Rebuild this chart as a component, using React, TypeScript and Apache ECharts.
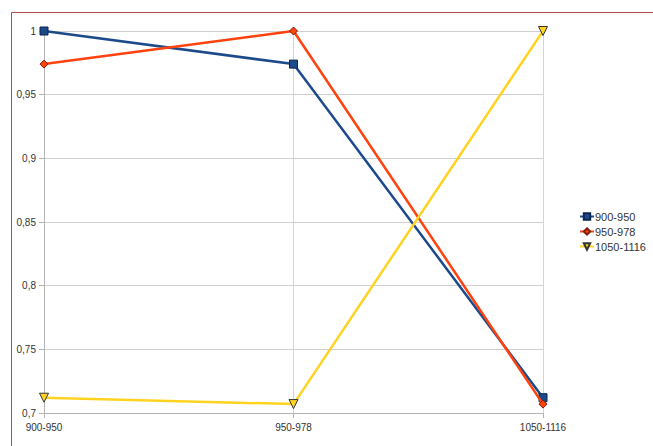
import React, { useEffect, useRef } from "react";
import * as echarts from "echarts";

const categories = ["900-950", "950-978", "1050-1116"];
const seriesNames = ["900-950", "950-978", "1050-1116"];
const s1 = [1, 0.974, 0.712];
const s2 = [0.974, 1, 0.707];
const s3 = [0.712, 0.707, 1];
const yTicks = { min: 0.7, max: 1, interval: 0.05 };

export default function App() {
  const ref = useRef<HTMLDivElement>(null);
  useEffect(() => {
    const chart = echarts.init(ref.current!, null, { renderer: "svg" });
    const gridColor = "#b3b3b3";
    const font = "'Liberation Sans', Arial, sans-serif";
    chart.setOption({
      animation: false,
      backgroundColor: "#ffffff",
      textStyle: { fontFamily: font },
      graphic: [
        {
          type: "rect",
          shape: { x: 11.5, y: 12.5, width: 800, height: 600 },
          style: { fill: "none", stroke: "#b5474f", lineWidth: 1 },
          silent: true,
        },
      ],
      grid: { left: 44, right: 110, top: 31, bottom: 33 },
      legend: {
        orient: "vertical",
        left: 574,
        top: 206,
        itemWidth: 14,
        itemHeight: 8,
        itemGap: 4,
        textStyle: { fontSize: 11, color: "#333", fontFamily: font, padding: [0, 0, 0, -4] },
        data: seriesNames,
      },
      xAxis: {
        type: "category",
        data: categories,
        boundaryGap: false,
        axisLine: { lineStyle: { color: gridColor } },
        axisTick: { show: true, length: 5, lineStyle: { color: gridColor } },
        axisLabel: { fontSize: 10, color: "#333", margin: 9, fontFamily: font },
        splitLine: { show: true, lineStyle: { color: "#d4d4d4" } },
      },
      yAxis: {
        type: "value",
        min: yTicks.min,
        max: yTicks.max,
        interval: yTicks.interval,
        axisLine: { show: true, lineStyle: { color: gridColor } },
        axisTick: { show: true, length: 5, lineStyle: { color: gridColor } },
        axisLabel: {
          fontSize: 10,
          color: "#333",
          margin: 8,
          fontFamily: font,
          formatter: (v: number) => String(Math.round(v * 100) / 100).replace(".", ","),
        },
        splitLine: { show: true, lineStyle: { color: "#d0d0d0" } },
      },
      series: [
        {
          name: seriesNames[0],
          type: "line",
          data: s1,
          symbol: "rect",
          symbolSize: 8,
          lineStyle: { color: "#1c4a8a", width: 2.5 },
          itemStyle: { color: "#1c4a8a", borderColor: "#0a2550", borderWidth: 1 },
          z: 3,
        },
        {
          name: seriesNames[1],
          type: "line",
          data: s2,
          symbol: "diamond",
          symbolSize: 8,
          lineStyle: { color: "#ff420e", width: 2.5 },
          itemStyle: { color: "#ff420e", borderColor: "#7a2005", borderWidth: 1 },
          z: 4,
        },
        {
          name: seriesNames[2],
          type: "line",
          data: s3,
          symbol: "triangle",
          symbolRotate: 180,
          symbolSize: 9,
          lineStyle: { color: "#ffd320", width: 2.5 },
          itemStyle: { color: "#ffd320", borderColor: "#333", borderWidth: 1 },
          z: 5,
        },
      ],
    });
    return () => chart.dispose();
  }, []);
  return (
    <div
      ref={ref}
      style={{ position: "fixed", left: 0, top: 0, width: 653, height: 446 }}
    />
  );
}
